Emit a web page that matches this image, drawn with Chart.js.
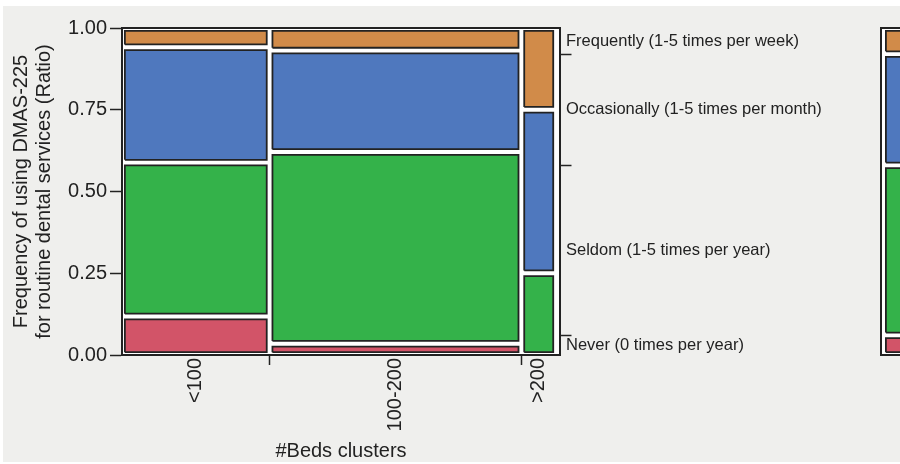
<!DOCTYPE html>
<html>
<head>
<meta charset="utf-8">
<script src="https://cdn.jsdelivr.net/npm/chart.js@4.4.0/dist/chart.umd.min.js"></script>
<style>
  html, body { margin: 0; padding: 0; width: 900px; height: 464px; overflow: hidden; background: #ffffff; }
  #panel { position: absolute; left: 3px; top: 6px; width: 897px; height: 456px; background: #efefed; }
  #mosaic { position: absolute; left: 0; top: 0; }
  #marginal { position: absolute; left: 870px; top: 0; }
</style>
</head>
<body>
<div id="panel"></div>
<canvas id="mosaic" width="900" height="464"></canvas>
<canvas id="marginal" width="60" height="464"></canvas>
<script>
// Bed-size clusters (mosaic columns) and usage frequency levels (stacked within each column)
const bedClusters = ['<100', '100-200', '>200'];
const frequencyLevels = [
  'Never (0 times per year)',
  'Seldom (1-5 times per year)',
  'Occasionally (1-5 times per month)',
  'Frequently (1-5 times per week)'
];
// Respondent counts per cluster for each level
const neverCounts = [2, 1, 0];
const seldomCounts = [8, 17, 1];
const occasionallyCounts = [6, 9, 2];
const frequentlyCounts = [1, 2, 1];
const ratioTicks = [0, 0.25, 0.5, 0.75, 1];

const levelColors = ['#d25468', '#34b24a', '#4f78be', '#d18b49'];
const INK = '#222222';
const FONT = "'Liberation Sans', Arial, Helvetica, sans-serif";

Chart.defaults.font.family = FONT;
Chart.defaults.color = INK;

const levelCounts = [neverCounts, seldomCounts, occasionallyCounts, frequentlyCounts];
const sum = arr => arr.reduce((s, v) => s + v, 0);
const clusterTotals = bedClusters.map((_, i) => sum(levelCounts.map(arr => arr[i])));
const grandTotal = sum(clusterTotals);
const levelTotals = levelCounts.map(sum);

// white gap around every tile, in data units
const GAP_X = 0.33;
const GAP_Y = 0.0086;

function tile(x0, x1, y0, y1, color, xAxisID, yAxisID) {
  return {
    type: 'line',
    xAxisID, yAxisID,
    data: [
      { x: x0, y: y0 }, { x: x1, y: y0 }, { x: x1, y: y1 }, { x: x0, y: y1 }, { x: x0, y: y0 }
    ],
    fill: 'shape',
    backgroundColor: color,
    borderColor: INK,
    borderWidth: 1.8,
    borderJoinStyle: 'miter',
    pointRadius: 0,
    pointHoverRadius: 0,
    tension: 0
  };
}

// mosaic tiles: column width = cluster size, tile height = share within cluster
const mosaicSets = [];
let cx = 0;
bedClusters.forEach((name, i) => {
  const n = clusterTotals[i];
  let cy = 0;
  levelCounts.forEach((arr, L) => {
    const frac = arr[i] / n;
    if (frac > 0) {
      mosaicSets.push(tile(cx + GAP_X, cx + n - GAP_X, cy + GAP_Y, cy + frac - GAP_Y, levelColors[L], 'x', 'y'));
    }
    cy += frac;
  });
  cx += n;
});

// x-axis: tick marks between columns, labels at column centres
const xTickSpecs = [];
let acc = 0;
bedClusters.forEach((name, i) => {
  xTickSpecs.push({ value: acc + clusterTotals[i] / 2, label: name, mark: false });
  acc += clusterTotals[i];
  if (i < bedClusters.length - 1) xTickSpecs.push({ value: acc, label: '', mark: true });
});

// right axis: marginal shares, tick marks at boundaries, labels at segment centres
const rTickSpecs = [];
let racc = 0;
frequencyLevels.forEach((name, L) => {
  const share = levelTotals[L] / grandTotal;
  rTickSpecs.push({ value: racc + share / 2, label: name, mark: false });
  racc += share;
  if (L < frequencyLevels.length - 1) rTickSpecs.push({ value: racc, label: '', mark: true });
});

const plotBackground = {
  id: 'plotBackground',
  beforeDraw(chart) {
    const a = chart.chartArea;
    const ctx = chart.ctx;
    ctx.save();
    ctx.fillStyle = '#ffffff';
    ctx.fillRect(a.left, a.top, a.right - a.left, a.bottom - a.top);
    ctx.restore();
  }
};

const frameBorder = { display: true, color: INK, width: 2 };

new Chart(document.getElementById('mosaic'), {
  type: 'line',
  data: { datasets: mosaicSets },
  plugins: [plotBackground],
  options: {
    responsive: false,
    animation: false,
    devicePixelRatio: 1,
    layout: { padding: { left: 0, right: 0, top: 28, bottom: 0 } },
    plugins: { legend: { display: false }, tooltip: { enabled: false } },
    scales: {
      x: {
        type: 'linear',
        position: 'bottom',
        min: 0,
        max: grandTotal * 1.009,
        afterBuildTicks: s => { s.ticks = xTickSpecs.map(t => ({ value: t.value })); },
        afterFit: s => { s.height = 109; },
        ticks: {
          autoSkip: false,
          minRotation: 90,
          maxRotation: 90,
          padding: -7,
          font: { size: 20 },
          color: INK,
          callback: (v, i) => xTickSpecs[i].label
        },
        grid: {
          display: true,
          drawOnChartArea: false,
          drawTicks: true,
          tickLength: 10,
          tickWidth: 1.5,
          tickColor: c => (xTickSpecs[c.index] && xTickSpecs[c.index].mark) ? INK : 'rgba(0,0,0,0)'
        },
        border: frameBorder,
        title: {
          display: true,
          text: '#Beds clusters',
          font: { size: 20, lineHeight: 1.2 },
          color: INK,
          padding: { top: 0, bottom: 1 }
        }
      },
      xTop: {
        type: 'linear',
        position: 'top',
        min: 0,
        max: 1,
        afterFit: s => { s.height = 0; },
        ticks: { display: false },
        grid: { display: false },
        border: frameBorder
      },
      y: {
        type: 'linear',
        position: 'left',
        min: 0,
        max: 1,
        afterBuildTicks: s => { s.ticks = ratioTicks.map(v => ({ value: v })); },
        afterFit: s => { s.width = 122; },
        ticks: {
          autoSkip: false,
          padding: 3,
          font: { size: 20 },
          color: INK,
          callback: v => Number(v).toFixed(2)
        },
        grid: {
          display: true,
          drawOnChartArea: false,
          drawTicks: true,
          tickLength: 12,
          tickWidth: 1.5,
          tickColor: INK
        },
        border: frameBorder,
        title: {
          display: true,
          text: ['Frequency of using DMAS-225', 'for routine dental services (Ratio)'],
          font: { size: 20, lineHeight: 1.15 },
          color: INK,
          padding: { top: 10, bottom: 0 }
        }
      },
      yRight: {
        type: 'linear',
        position: 'right',
        min: 0,
        max: 1,
        afterBuildTicks: s => { s.ticks = rTickSpecs.map(t => ({ value: t.value })); },
        afterFit: s => { s.width = 340; },
        ticks: {
          autoSkip: false,
          padding: -5.5,
          font: { size: 16.5 },
          color: INK,
          callback: (v, i) => rTickSpecs[i].label
        },
        grid: {
          display: true,
          drawOnChartArea: false,
          drawTicks: true,
          tickLength: 11.5,
          tickWidth: 1.5,
          tickColor: c => (rTickSpecs[c.index] && rTickSpecs[c.index].mark) ? INK : 'rgba(0,0,0,0)'
        },
        border: frameBorder
      }
    }
  }
});

// marginal bar: overall share of each level across all clusters
const marginalSets = [];
let my = 0;
levelTotals.forEach((n, L) => {
  const share = n / grandTotal;
  if (share > 0) marginalSets.push(tile(0.1, 0.85, my + GAP_Y, my + share - GAP_Y, levelColors[L], 'x', 'y'));
  my += share;
});

new Chart(document.getElementById('marginal'), {
  type: 'line',
  data: { datasets: marginalSets },
  plugins: [plotBackground],
  options: {
    responsive: false,
    animation: false,
    devicePixelRatio: 1,
    layout: { padding: { left: 11, right: 0, top: 28, bottom: 0 } },
    plugins: { legend: { display: false }, tooltip: { enabled: false } },
    scales: {
      x: {
        type: 'linear', position: 'bottom', min: 0, max: 1,
        afterFit: s => { s.height = 109; },
        ticks: { display: false }, grid: { display: false }, border: frameBorder
      },
      xTop: {
        type: 'linear', position: 'top', min: 0, max: 1,
        afterFit: s => { s.height = 0; },
        ticks: { display: false }, grid: { display: false }, border: frameBorder
      },
      y: {
        type: 'linear', position: 'left', min: 0, max: 1,
        afterFit: s => { s.width = 0; },
        ticks: { display: false }, grid: { display: false }, border: frameBorder
      }
    }
  }
});
</script>
</body>
</html>
